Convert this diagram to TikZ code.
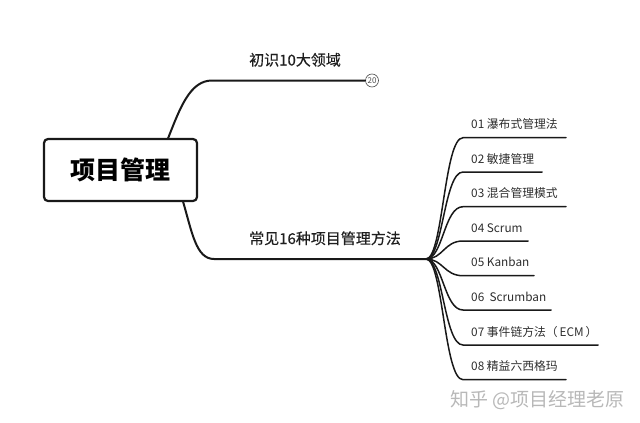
\documentclass[tikz,border=0pt]{standalone}
\usepackage{fontspec}
\setmainfont{Noto Sans CJK SC}
\newfontfamily\heavier[FakeBold=0.35]{Noto Sans CJK SC}
\tikzset{
  branch/.style={draw=black!90,line width=2pt,line cap=round},
  leafline/.style={draw=black!90,line width=1.5pt,line cap=round},
  rootbox/.style={draw=black!90,line width=2.2pt,rounded corners=4pt,fill=white,minimum width=153pt,minimum height=62pt,inner sep=0pt,font=\fontsize{25}{25}\selectfont\bfseries},
  mainlabel/.style={anchor=base west,inner sep=0pt,text=black!88,font=\heavier\fontsize{15}{15}\selectfont},
  leaf/.style={anchor=base west,inner sep=0pt,text=black!82,font=\fontsize{11.8}{14}\selectfont},
  badge/.style={circle,draw=black!70,line width=.6pt,minimum size=13pt,inner sep=0pt,font=\fontsize{8}{8}\selectfont,text=black!70},
  wmark/.style={anchor=base west,inner sep=0pt,text=black!28,font=\fontsize{19}{19}\selectfont}
}
\begin{document}
\begin{tikzpicture}[x=1pt,y=-1pt]
\useasboundingbox (0,0) rectangle (640,423);
\node[rootbox] (root) at (120.5,170) {项目管理};
\node[mainlabel] (m1) at (249,65.5) {初识10大领域};
\node[mainlabel] (m2) at (249,244) {常见16种项目管理方法};
\node[badge] (b) at (372,80.5) {20};
\coordinate (r1) at (168,138.5);
\coordinate (r2) at (183,201.5);
\coordinate (hub) at (426,259);
\draw[branch] (r1) .. controls (180,108) and (190,80.5) .. (212,80.5) -- (b.west);
\draw[branch] (r2) .. controls (192,232) and (196,259) .. (214,259) -- (hub);
\foreach \n/\y/\xe/\txt in {
 1/137.7/566/{01 瀑布式管理法},
 2/172/542/{02 敏捷管理},
 3/206.7/566/{03 混合管理模式},
 4/241/528/{04 Scrum},
 5/275.7/534/{05 Kanban},
 6/310/551/{06\ \ Scrumban},
 7/345/598/{07 事件链方法（\,ECM\,）},
 8/379.7/566/{08 精益六西格玛}}{
  \node[leaf] (t\n) at (471,\y-9) {\txt};
  \coordinate (s\n) at (463,\y);
  \coordinate (e\n) at (\xe,\y);
  \draw[leafline] (hub) .. controls (443,259) and (444,\y) .. (s\n) -- (e\n);
}
\node[wmark] (wm) at (450,406) {知乎 @项目经理老原};
\end{tikzpicture}
\end{document}
